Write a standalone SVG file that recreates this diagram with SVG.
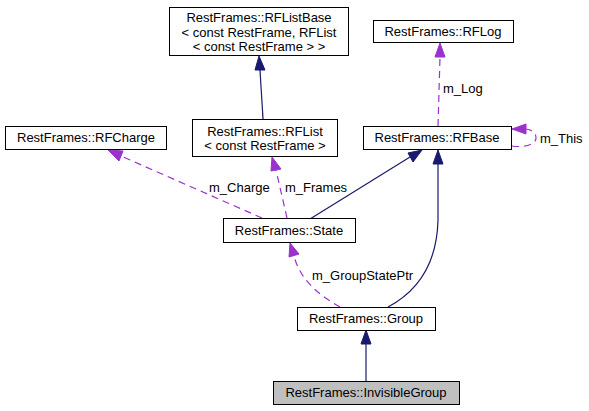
<svg xmlns="http://www.w3.org/2000/svg" width="589" height="411" viewBox="0 0 589 411">
<style>
.box{fill:#fff;stroke:#000;stroke-width:1}
.t{font-family:"Liberation Sans",Arial,sans-serif;font-size:13px;fill:#000;text-anchor:middle}
.lbl{font-family:"Liberation Sans",Arial,sans-serif;font-size:13px;fill:#000}
.inh{fill:none;stroke:#191970;stroke-width:1.2}
.use{fill:none;stroke:#9a32cd;stroke-width:1.2;stroke-dasharray:7,5}
.ah1{fill:#191970;stroke:#191970}
.ah2{fill:#9a32cd;stroke:#9a32cd}
</style>
<rect width="589" height="411" fill="#fff"/>
<g id="connectors">
<!-- RFList -> RFListBase -->
<path class="inh" d="M263,119 L260,70"/>
<polygon class="ah1" points="259,56 255,70 265,70"/>
<!-- State -> RFList -->
<path class="use" d="M287,218 L276,170"/>
<polygon class="ah2" points="272,157 271,171 281,169"/>
<text class="lbl" x="285" y="192">m_Frames</text>
<!-- State -> RFCharge -->
<path class="use" d="M262,218 L121,156"/>
<polygon class="ah2" points="108,150 119,161 123,151"/>
<text class="lbl" x="209" y="192">m_Charge</text>
<!-- State -> RFBase -->
<path class="inh" d="M310,219 L410,157"/>
<polygon class="ah1" points="422,150 408,153 413,162"/>
<!-- Group -> RFBase -->
<path class="inh" d="M388,307 C420,290 437,260 438,220 L438,164"/>
<polygon class="ah1" points="438,150 433,164 443,164"/>
<!-- Group -> State -->
<path class="use" d="M340,307 C320,296 300,280 294,256"/>
<polygon class="ah2" points="290,243 289,257 299,254"/>
<text class="lbl" x="312" y="280">m_GroupStatePtr</text>
<!-- InvisibleGroup -> Group -->
<path class="inh" d="M366,381 L366,344"/>
<polygon class="ah1" points="366,330 361,344 371,344"/>
<!-- RFBase -> RFLog -->
<path class="use" d="M438,126 L440,57"/>
<polygon class="ah2" points="440,43 435,57 445,57"/>
<text class="lbl" x="443" y="93">m_Log</text>
<!-- RFBase self -->
<path class="use" d="M512,146 C525,148 536,144 536,138 C536,132 530,129 525,129"/>
<polygon class="ah2" points="512,129 526,124 526,134"/>
<text class="lbl" x="540" y="143">m_This</text>
</g>
<g id="RFListBase">
<rect class="box" x="169.5" y="7.5" width="179" height="48"/>
<text class="t" x="259" y="22">RestFrames::RFListBase</text>
<text class="t" x="259" y="37">&lt; const RestFrame, RFList</text>
<text class="t" x="259" y="51">&lt; const RestFrame &gt; &gt;</text>
</g>
<g id="RFLog">
<rect class="box" x="373.5" y="20.5" width="140" height="22"/>
<text class="t" x="443" y="36">RestFrames::RFLog</text>
</g>
<g id="RFCharge">
<rect class="box" x="5.5" y="126.5" width="161" height="23"/>
<text class="t" x="86" y="142">RestFrames::RFCharge</text>
</g>
<g id="RFList">
<rect class="box" x="192.5" y="119.5" width="145" height="37"/>
<text class="t" x="265" y="136">RestFrames::RFList</text>
<text class="t" x="265" y="150">&lt; const RestFrame &gt;</text>
</g>
<g id="RFBase">
<rect class="box" x="363.5" y="126.5" width="148" height="23"/>
<text class="t" x="437" y="142">RestFrames::RFBase</text>
</g>
<g id="State">
<rect class="box" x="223.5" y="218.5" width="132" height="24"/>
<text class="t" x="289" y="235">RestFrames::State</text>
</g>
<g id="Group">
<rect class="box" x="297.5" y="307.5" width="138" height="23"/>
<text class="t" x="366" y="323">RestFrames::Group</text>
</g>
<g id="InvisibleGroup">
<rect class="box" x="273.5" y="381.5" width="186" height="23" style="fill:#bfbfbf"/>
<text class="t" x="366" y="397">RestFrames::InvisibleGroup</text>
</g>
</svg>
